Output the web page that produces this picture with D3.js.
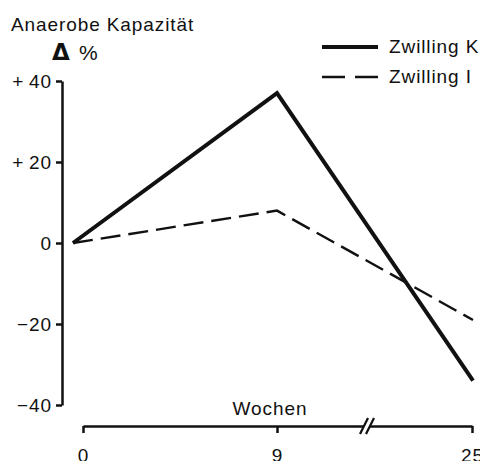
<!DOCTYPE html>
<html>
<head>
<meta charset="utf-8">
<script src="https://cdn.jsdelivr.net/npm/d3@7"></script>
<style>
  body { margin: 0; background: #fff; }
  svg text { font-family: "Liberation Sans", Arial, sans-serif; font-size: 19px; letter-spacing: 0.9px; fill: #111; }
</style>
</head>
<body>
<div id="chart"></div>
<script>
// data
var weeks = [0, 9, 25];
var twinK = [0, 37, -34];     // Zwilling K, solid
var twinI = [0, 8, -19];      // Zwilling I, dashed
var yTicks = [40, 20, 0, -20, -40];
var seriesNames = ["Zwilling K", "Zwilling I"];

var width = 480, height = 461;

var svg = d3.select("#chart").append("svg")
    .attr("width", width)
    .attr("height", height);

// y scale
var y = d3.scaleLinear().domain([-40, 40]).range([405, 81]);
// plot scale (broken time axis, so piecewise)
var x = d3.scaleLinear().domain(weeks).range([73, 277, 473]);
// the axis below sits a little to the right of the lines' start
var xAx = d3.scaleLinear().domain(weeks).range([83, 277, 472]);

function fmt(d) {
    if (d > 0) return "+\u2009" + d;
    if (d < 0) return "\u2212" + Math.abs(d);
    return "0";
}

var yAxis = svg.append("g")
    .attr("transform", "translate(62,0)")
    .call(d3.axisLeft(y).tickValues(yTicks).tickFormat(fmt).tickSizeOuter(0).tickSizeInner(6).tickPadding(4));
yAxis.select(".domain").attr("stroke", "#111").attr("stroke-width", 2.5);
yAxis.selectAll(".tick line").attr("stroke", "#111").attr("stroke-width", 2.5);
yAxis.selectAll(".tick text").attr("font-size", null).attr("font-family", null);

var xAxis = svg.append("g")
    .attr("transform", "translate(0,426)")
    .call(d3.axisBottom(xAx).tickValues(weeks).tickFormat(d3.format("d")).tickSizeOuter(0).tickSizeInner(7).tickPadding(16));
xAxis.select(".domain").attr("stroke", "#111").attr("stroke-width", 2.5);
xAxis.selectAll(".tick line").attr("stroke", "#111").attr("stroke-width", 2.5);
xAxis.selectAll(".tick text").attr("font-size", null).attr("font-family", null);

// axis break
var bx = 367;
svg.append("rect").attr("x", bx - 3).attr("y", 420).attr("width", 6).attr("height", 12).attr("fill", "#fff");
[-3, 3].forEach(function (o) {
    svg.append("line")
        .attr("x1", bx + o - 4).attr("y1", 434)
        .attr("x2", bx + o + 4).attr("y2", 418)
        .attr("stroke", "#111").attr("stroke-width", 2.2);
});

svg.append("text").attr("x", 270).attr("y", 415).attr("text-anchor", "middle").text("Wochen");

// titles
svg.append("text").attr("x", 11).attr("y", 31).text("Anaerobe Kapazität");
svg.append("text").attr("x", 52).attr("y", 60)
    .style("font-family", "'DejaVu Sans', sans-serif").style("font-weight", "bold").style("font-size", "23px")
    .style("letter-spacing", "0px").text("Δ");
svg.append("text").attr("x", 79).attr("y", 60).style("font-size", "21px").text("%");

// lines
var line = d3.line().x(function (d, i) { return x(weeks[i]); }).y(function (d) { return y(d); });

svg.append("path").datum(twinI)
    .attr("d", line).attr("fill", "none")
    .attr("stroke", "#111").attr("stroke-width", 2.4)
    .attr("stroke-dasharray", "20,8");

svg.append("path").datum(twinK)
    .attr("d", line).attr("fill", "none")
    .attr("stroke", "#111").attr("stroke-width", 4)
    .attr("stroke-linejoin", "miter");

// legend
var legend = svg.append("g").attr("transform", "translate(322,47)");
seriesNames.forEach(function (name, i) {
    legend.append("line")
        .attr("x1", 0).attr("x2", 56)
        .attr("y1", i * 30).attr("y2", i * 30)
        .attr("stroke", "#111")
        .attr("stroke-width", i == 0 ? 4 : 2.4)
        .attr("stroke-dasharray", i == 0 ? null : "23,10");
    legend.append("text")
        .attr("x", 67).attr("y", i * 30 + 6)
        .text(name);
});
</script>
</body>
</html>
